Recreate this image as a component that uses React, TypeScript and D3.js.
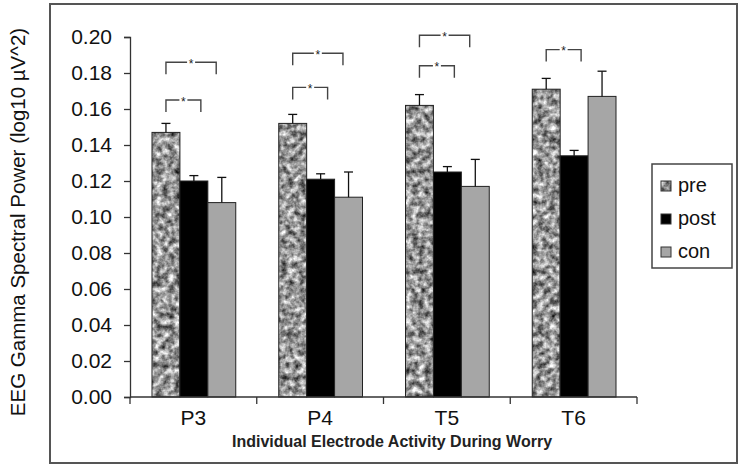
import React, { useEffect, useRef } from 'react';
import * as d3 from 'd3';

const categories: string[] = ['P3', 'P4', 'T5', 'T6'];
const seriesNames: string[] = ['pre', 'post', 'con'];

// mean values
const preValues: number[] = [0.147, 0.152, 0.162, 0.171];
const postValues: number[] = [0.12, 0.121, 0.125, 0.134];
const conValues: number[] = [0.108, 0.111, 0.117, 0.167];

// top of the error bar (mean + SE)
const preErrors: number[] = [0.152, 0.157, 0.168, 0.177];
const postErrors: number[] = [0.123, 0.124, 0.128, 0.137];
const conErrors: number[] = [0.122, 0.125, 0.132, 0.181];

const yTicks: number[] = [0, 0.02, 0.04, 0.06, 0.08, 0.1, 0.12, 0.14, 0.16, 0.18, 0.2];

// significance brackets: category, compared series, height of bracket
const bracketCats: string[] = ['P3', 'P3', 'P4', 'P4', 'T5', 'T5', 'T6'];
const bracketTargets: string[] = ['post', 'con', 'post', 'con', 'post', 'con', 'post'];
const bracketLevels: number[] = [0.165, 0.186, 0.172, 0.191, 0.184, 0.201, 0.193];

const App: React.FC = () => {
  const ref = useRef<SVGSVGElement | null>(null);

  useEffect(() => {
    if (!ref.current) return;
    const svg = d3.select(ref.current);
    svg.selectAll('*').remove();

    const font = 'Arial, "Liberation Sans", sans-serif';

    const values = [preValues, postValues, conValues];
    const errors = [preErrors, postErrors, conErrors];

    // mottled texture for "pre"
    const defs = svg.append('defs');
    const filt = defs
      .append('filter')
      .attr('id', 'speckle')
      .attr('x', '0')
      .attr('y', '0')
      .attr('width', '1')
      .attr('height', '1')
      .attr('color-interpolation-filters', 'sRGB');
    filt
      .append('feTurbulence')
      .attr('type', 'fractalNoise')
      .attr('baseFrequency', '0.16')
      .attr('numOctaves', 3)
      .attr('seed', 5)
      .attr('result', 'noise');
    filt
      .append('feColorMatrix')
      .attr('in', 'noise')
      .attr('type', 'matrix')
      .attr('values', '1.3 0 0 0 -0.06  1.3 0 0 0 -0.06  1.3 0 0 0 -0.06  0 0 0 0 1')
      .attr('result', 'gray');
    filt
      .append('feComposite')
      .attr('in', 'gray')
      .attr('in2', 'SourceGraphic')
      .attr('operator', 'in');

    // outer frame
    svg
      .append('rect')
      .attr('x', 50)
      .attr('y', 4)
      .attr('width', 687)
      .attr('height', 459)
      .attr('fill', '#fff')
      .attr('stroke', '#555')
      .attr('stroke-width', 2);

    const x = d3.scaleBand<string>().domain(categories).range([130, 637]).padding(0);
    const inner = d3
      .scaleBand<string>()
      .domain(seriesNames)
      .range([22, x.bandwidth() - 21])
      .padding(0);
    const y = d3.scaleLinear().domain([0, 0.2]).range([397, 37]);

    const fills = ['#8c8c8c', '#000', '#a6a6a6'];

    // bars
    seriesNames.forEach((s, si) => {
      const g = svg.append('g');
      g.selectAll('rect.bar')
        .data(categories)
        .enter()
        .append('rect')
        .attr('x', (c) => (x(c) || 0) + (inner(s) || 0))
        .attr('y', (c, i) => y(values[si][i]))
        .attr('width', inner.bandwidth())
        .attr('height', (c, i) => y(0) - y(values[si][i]))
        .attr('fill', fills[si])
        .attr('filter', si === 0 ? 'url(#speckle)' : null);
      g.selectAll('rect.outline')
        .data(categories)
        .enter()
        .append('rect')
        .attr('x', (c) => (x(c) || 0) + (inner(s) || 0))
        .attr('y', (c, i) => y(values[si][i]))
        .attr('width', inner.bandwidth())
        .attr('height', (c, i) => y(0) - y(values[si][i]))
        .attr('fill', 'none')
        .attr('stroke', '#222')
        .attr('stroke-width', 1);

      // error bars (upper only)
      categories.forEach((c, i) => {
        const cx = (x(c) || 0) + (inner(s) || 0) + inner.bandwidth() / 2;
        g.append('line')
          .attr('x1', cx)
          .attr('x2', cx)
          .attr('y1', y(values[si][i]))
          .attr('y2', y(errors[si][i]))
          .attr('stroke', '#111')
          .attr('stroke-width', 1.3);
        g.append('line')
          .attr('x1', cx - 4.5)
          .attr('x2', cx + 4.5)
          .attr('y1', y(errors[si][i]))
          .attr('y2', y(errors[si][i]))
          .attr('stroke', '#111')
          .attr('stroke-width', 1.3);
      });
    });

    // significance brackets
    bracketCats.forEach((c, i) => {
      const x0 = (x(c) || 0) + (inner('pre') || 0) + inner.bandwidth() / 2;
      const target = bracketTargets[i];
      const x1 =
        (x(c) || 0) +
        (inner(target) || 0) +
        inner.bandwidth() * (target === 'post' ? 0.75 : 0.3);
      const yy = y(bracketLevels[i]);
      const mid = (x0 + x1) / 2;
      const g = svg
        .append('g')
        .attr('stroke', '#444')
        .attr('stroke-width', 1.4)
        .attr('fill', 'none');
      g.append('path').attr('d', `M${x0},${yy + 12}V${yy}H${mid - 4}`);
      g.append('path').attr('d', `M${mid + 4},${yy}H${x1}V${yy + 12}`);
      svg
        .append('text')
        .attr('x', mid)
        .attr('y', yy + 5.5)
        .attr('text-anchor', 'middle')
        .attr('font-family', font)
        .attr('font-size', 12)
        .attr('fill', '#222')
        .text('*');
    });

    // y axis
    const yAxis = svg
      .append('g')
      .attr('transform', 'translate(130,0)')
      .call(
        d3
          .axisLeft(y)
          .tickValues(yTicks)
          .tickSize(6)
          .tickPadding(12)
          .tickFormat((d) => d3.format('.2f')(d as number))
      );
    yAxis.select('.domain').attr('stroke', '#333').attr('stroke-width', 1.3);
    yAxis.selectAll('.tick line').attr('stroke', '#333').attr('stroke-width', 1.3);
    yAxis
      .selectAll('.tick text')
      .attr('font-family', font)
      .attr('font-size', 21)
      .attr('fill', '#111');

    // x axis
    const xAxis = svg.append('g').attr('transform', 'translate(0,397)');
    xAxis
      .append('line')
      .attr('x1', 130)
      .attr('x2', 637)
      .attr('stroke', '#333')
      .attr('stroke-width', 1.3);
    const bounds = categories.map((c) => x(c) || 0).concat([637]);
    xAxis
      .selectAll('line.tk')
      .data(bounds)
      .enter()
      .append('line')
      .attr('x1', (d) => d)
      .attr('x2', (d) => d)
      .attr('y1', 0)
      .attr('y2', 7)
      .attr('stroke', '#333')
      .attr('stroke-width', 1.3);
    xAxis
      .selectAll('text.cat')
      .data(categories)
      .enter()
      .append('text')
      .attr('x', (c) => (x(c) || 0) + x.bandwidth() / 2)
      .attr('y', 28)
      .attr('text-anchor', 'middle')
      .attr('font-family', font)
      .attr('font-size', 21)
      .attr('fill', '#111')
      .text((c) => c);

    // axis titles
    svg
      .append('text')
      .attr('x', 392)
      .attr('y', 447)
      .attr('text-anchor', 'middle')
      .attr('font-family', font)
      .attr('font-weight', 'bold')
      .attr('font-size', 16)
      .attr('fill', '#222')
      .text('Individual Electrode Activity During Worry');

    svg
      .append('text')
      .attr('transform', 'translate(25,222) rotate(-90)')
      .attr('text-anchor', 'middle')
      .attr('font-family', font)
      .attr('font-size', 20.5)
      .attr('fill', '#111')
      .text('EEG Gamma Spectral Power (log10 µV^2)');

    // legend
    const lg = svg.append('g');
    lg.append('rect')
      .attr('x', 652)
      .attr('y', 164)
      .attr('width', 80)
      .attr('height', 104)
      .attr('fill', '#fff')
      .attr('stroke', '#444')
      .attr('stroke-width', 1.5);
    const ly = d3.scalePoint<string>().domain(seriesNames).range([186, 252]);
    seriesNames.forEach((s, si) => {
      const yy = ly(s) || 0;
      lg.append('rect')
        .attr('x', 661)
        .attr('y', yy - 5)
        .attr('width', 10)
        .attr('height', 10)
        .attr('fill', fills[si])
        .attr('filter', si === 0 ? 'url(#speckle)' : null);
      lg.append('rect')
        .attr('x', 661)
        .attr('y', yy - 5)
        .attr('width', 10)
        .attr('height', 10)
        .attr('fill', 'none')
        .attr('stroke', '#333')
        .attr('stroke-width', 1);
      lg.append('text')
        .attr('x', 678)
        .attr('y', yy + 6)
        .attr('font-family', font)
        .attr('font-size', 20)
        .attr('fill', '#111')
        .text(s);
    });
  }, []);

  return (
    <svg
      ref={ref}
      width={741}
      height={472}
      style={{ position: 'absolute', left: 0, top: 0, background: '#fff' }}
    />
  );
};

export default App;
